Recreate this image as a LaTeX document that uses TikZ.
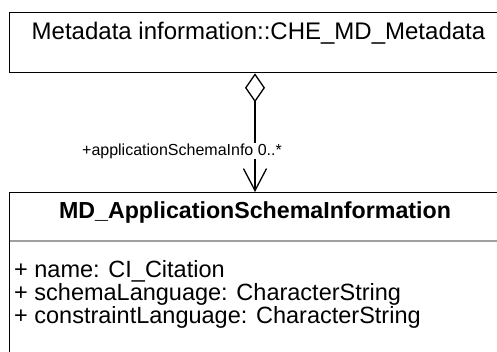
\documentclass[tikz,border=0pt]{standalone}
\usepackage{fontspec}
\setmainfont{Liberation Sans}
\usetikzlibrary{arrows.meta}
\definecolor{sepgray}{HTML}{A0A0A0}
\begin{document}
\begin{tikzpicture}[x=1pt,y=1pt,
  box/.style={draw=black, line width=1.3pt, anchor=north west, inner sep=0pt},
  toptxt/.style={inner sep=0pt, font=\fontsize{24}{28}\selectfont},
  hdrtxt/.style={inner sep=0pt, font=\fontsize{23.2}{27}\selectfont\bfseries},
  attr/.style={inner sep=0pt, anchor=base west, font=\fontsize{23.5}{27}\selectfont},
  lbltxt/.style={inner sep=1pt, fill=white, font=\fontsize{16}{19}\selectfont},
  assoc/.style={line width=1.3pt, {Diamond[open, length=29pt, width=20pt]}-{Straight Barb[length=22pt, width=23pt]}}]
\useasboundingbox (0,0) rectangle (497,-352);
\clip (0,0) rectangle (497,-352);
% top class
\node[box, minimum width=510pt, minimum height=60pt] (top) at (9,-12) {};
\node[toptxt] (toptext) at (258.5,-33) {Metadata information::CHE\_MD\_Metadata};
% bottom class
\node[box, minimum width=510pt, minimum height=180pt] (cls) at (9,-192) {};
\node[hdrtxt] (hdr) at (255,-213) {MD\_ApplicationSchemaInformation};
\coordinate (sepL) at (9.7,-241);
\coordinate (sepR) at (510,-241);
\draw[sepgray, line width=1.6pt] (sepL) -- (sepR);
\node[attr] (a1) at (14,-277) {+ name: CI\_Citation};
\node[attr] (a2) at (14,-300) {+ schemaLanguage: CharacterString};
\node[attr] (a3) at (14,-323) {+ constraintLanguage: CharacterString};
% association
\draw[assoc] (top.south -| hdr) -- (cls.north -| hdr);
\node[lbltxt] (lbl) at (182,-151) {+applicationSchemaInfo 0..*};
\end{tikzpicture}
\end{document}
